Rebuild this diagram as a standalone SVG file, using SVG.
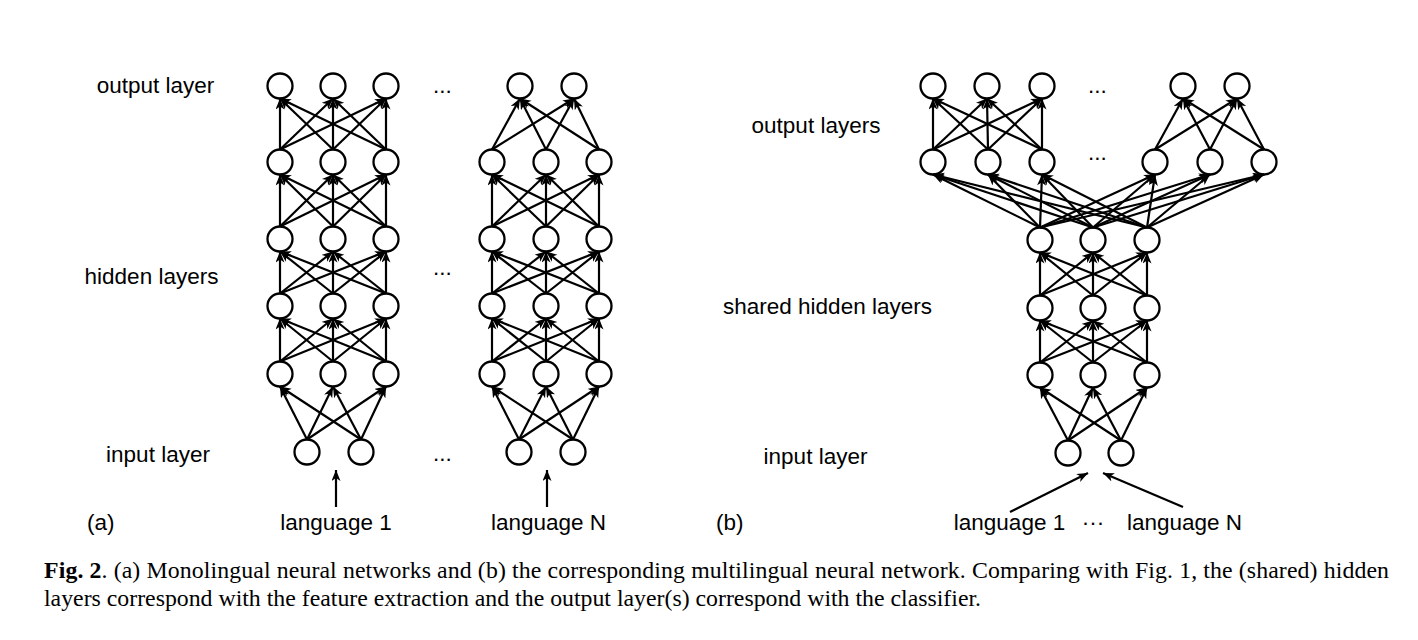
<svg xmlns="http://www.w3.org/2000/svg" width="1418" height="640" viewBox="0 0 1418 640">
<style>
.n{fill:#fff;stroke:#000;stroke-width:2.3}
.e line{stroke:#000;stroke-width:2.2;marker-end:url(#ah)}
.t{font-family:"Liberation Sans",Arial,Helvetica,sans-serif;font-size:22.5px;fill:#000}
.m{text-anchor:middle}
.c{font-family:"Liberation Serif","Times New Roman",serif;font-size:23.8px;fill:#000}
</style>
<defs>
<marker id="ah" markerWidth="12" markerHeight="10" refX="11" refY="4.5" orient="auto" markerUnits="userSpaceOnUse"><path d="M0,0 L11,4.5 L0,9 L3,4.5 Z" fill="#000"/></marker>
</defs>
<rect width="1418" height="640" fill="#fff"/>

<!-- labels -->
<text class="t m" x="155.5" y="93">output layer</text>
<text class="t m" x="151.5" y="284">hidden layers</text>
<text class="t m" x="158" y="462">input layer</text>
<text class="t" x="87" y="530">(a)</text>
<text class="t m" x="336" y="530">language 1</text>
<text class="t m" x="548.5" y="530">language N</text>
<text class="t" x="433" y="93">...</text>
<text class="t" x="433" y="275">...</text>
<text class="t" x="433" y="461">...</text>
<text class="t m" x="816" y="133">output layers</text>
<text class="t m" x="827.5" y="314">shared hidden layers</text>
<text class="t m" x="815.5" y="464">input layer</text>
<text class="t" x="716" y="530">(b)</text>
<text class="t m" x="1009.5" y="530">language 1</text>
<text class="t m" x="1093" y="530">···</text>
<text class="t m" x="1184.5" y="530">language N</text>
<text class="t" x="1088" y="93">...</text>
<text class="t" x="1088" y="160">...</text>

<!-- (a) network 1 -->
<g id="a1-o1"><circle class="n" cx="280" cy="86" r="12.5"/></g>
<g id="a1-o2"><circle class="n" cx="333" cy="86" r="12.5"/></g>
<g id="a1-o3"><circle class="n" cx="386" cy="86" r="12.5"/></g>
<g id="a1-h1a"><circle class="n" cx="280" cy="162" r="12.5"/></g>
<g id="a1-h1b"><circle class="n" cx="333" cy="162" r="12.5"/></g>
<g id="a1-h1c"><circle class="n" cx="386" cy="162" r="12.5"/></g>
<g id="a1-h2a"><circle class="n" cx="280" cy="239" r="12.5"/></g>
<g id="a1-h2b"><circle class="n" cx="333" cy="239" r="12.5"/></g>
<g id="a1-h2c"><circle class="n" cx="386" cy="239" r="12.5"/></g>
<g id="a1-h3a"><circle class="n" cx="280" cy="306" r="12.5"/></g>
<g id="a1-h3b"><circle class="n" cx="333" cy="306" r="12.5"/></g>
<g id="a1-h3c"><circle class="n" cx="386" cy="306" r="12.5"/></g>
<g id="a1-h4a"><circle class="n" cx="280" cy="374" r="12.5"/></g>
<g id="a1-h4b"><circle class="n" cx="333" cy="374" r="12.5"/></g>
<g id="a1-h4c"><circle class="n" cx="386" cy="374" r="12.5"/></g>
<g id="a1-i1"><circle class="n" cx="307" cy="452" r="12.5"/></g>
<g id="a1-i2"><circle class="n" cx="361" cy="452" r="12.5"/></g>

<!-- (a) network N -->
<g id="aN-o1"><circle class="n" cx="520" cy="86" r="12.5"/></g>
<g id="aN-o2"><circle class="n" cx="574" cy="86" r="12.5"/></g>
<g id="aN-h1a"><circle class="n" cx="492" cy="162" r="12.5"/></g>
<g id="aN-h1b"><circle class="n" cx="546" cy="162" r="12.5"/></g>
<g id="aN-h1c"><circle class="n" cx="599" cy="162" r="12.5"/></g>
<g id="aN-h2a"><circle class="n" cx="492" cy="239" r="12.5"/></g>
<g id="aN-h2b"><circle class="n" cx="546" cy="239" r="12.5"/></g>
<g id="aN-h2c"><circle class="n" cx="599" cy="239" r="12.5"/></g>
<g id="aN-h3a"><circle class="n" cx="492" cy="306" r="12.5"/></g>
<g id="aN-h3b"><circle class="n" cx="546" cy="306" r="12.5"/></g>
<g id="aN-h3c"><circle class="n" cx="599" cy="306" r="12.5"/></g>
<g id="aN-h4a"><circle class="n" cx="492" cy="374" r="12.5"/></g>
<g id="aN-h4b"><circle class="n" cx="546" cy="374" r="12.5"/></g>
<g id="aN-h4c"><circle class="n" cx="599" cy="374" r="12.5"/></g>
<g id="aN-i1"><circle class="n" cx="519" cy="452" r="12.5"/></g>
<g id="aN-i2"><circle class="n" cx="573" cy="452" r="12.5"/></g>

<!-- (b) multilingual network -->
<g id="b-o1"><circle class="n" cx="933" cy="86" r="12.5"/></g>
<g id="b-o2"><circle class="n" cx="987" cy="86" r="12.5"/></g>
<g id="b-o3"><circle class="n" cx="1042" cy="86" r="12.5"/></g>
<g id="b-o4"><circle class="n" cx="1183" cy="86" r="12.5"/></g>
<g id="b-o5"><circle class="n" cx="1237" cy="86" r="12.5"/></g>
<g id="b-l1"><circle class="n" cx="933" cy="162" r="12.5"/></g>
<g id="b-l2"><circle class="n" cx="988" cy="162" r="12.5"/></g>
<g id="b-l3"><circle class="n" cx="1042" cy="162" r="12.5"/></g>
<g id="b-l4"><circle class="n" cx="1155" cy="162" r="12.5"/></g>
<g id="b-l5"><circle class="n" cx="1210" cy="162" r="12.5"/></g>
<g id="b-l6"><circle class="n" cx="1264" cy="162" r="12.5"/></g>
<g id="b-s1a"><circle class="n" cx="1040" cy="240" r="12.5"/></g>
<g id="b-s1b"><circle class="n" cx="1093" cy="240" r="12.5"/></g>
<g id="b-s1c"><circle class="n" cx="1147" cy="240" r="12.5"/></g>
<g id="b-s2a"><circle class="n" cx="1040" cy="308" r="12.5"/></g>
<g id="b-s2b"><circle class="n" cx="1093" cy="308" r="12.5"/></g>
<g id="b-s2c"><circle class="n" cx="1147" cy="308" r="12.5"/></g>
<g id="b-s3a"><circle class="n" cx="1040" cy="375" r="12.5"/></g>
<g id="b-s3b"><circle class="n" cx="1093" cy="375" r="12.5"/></g>
<g id="b-s3c"><circle class="n" cx="1147" cy="375" r="12.5"/></g>
<g id="b-i1"><circle class="n" cx="1068" cy="453" r="12.5"/></g>
<g id="b-i2"><circle class="n" cx="1121" cy="453" r="12.5"/></g>

<g id="connectors" class="e">
<!-- net 1 -->
<line x1="307" y1="439.5" x2="280" y2="386.5"/><line x1="307" y1="439.5" x2="333" y2="386.5"/><line x1="307" y1="439.5" x2="386" y2="386.5"/>
<line x1="361" y1="439.5" x2="280" y2="386.5"/><line x1="361" y1="439.5" x2="333" y2="386.5"/><line x1="361" y1="439.5" x2="386" y2="386.5"/>
<line x1="280" y1="361.5" x2="280" y2="318.5"/><line x1="280" y1="361.5" x2="333" y2="318.5"/><line x1="280" y1="361.5" x2="386" y2="318.5"/>
<line x1="333" y1="361.5" x2="280" y2="318.5"/><line x1="333" y1="361.5" x2="333" y2="318.5"/><line x1="333" y1="361.5" x2="386" y2="318.5"/>
<line x1="386" y1="361.5" x2="280" y2="318.5"/><line x1="386" y1="361.5" x2="333" y2="318.5"/><line x1="386" y1="361.5" x2="386" y2="318.5"/>
<line x1="280" y1="293.5" x2="280" y2="251.5"/><line x1="280" y1="293.5" x2="333" y2="251.5"/><line x1="280" y1="293.5" x2="386" y2="251.5"/>
<line x1="333" y1="293.5" x2="280" y2="251.5"/><line x1="333" y1="293.5" x2="333" y2="251.5"/><line x1="333" y1="293.5" x2="386" y2="251.5"/>
<line x1="386" y1="293.5" x2="280" y2="251.5"/><line x1="386" y1="293.5" x2="333" y2="251.5"/><line x1="386" y1="293.5" x2="386" y2="251.5"/>
<line x1="280" y1="226.5" x2="280" y2="174.5"/><line x1="280" y1="226.5" x2="333" y2="174.5"/><line x1="280" y1="226.5" x2="386" y2="174.5"/>
<line x1="333" y1="226.5" x2="280" y2="174.5"/><line x1="333" y1="226.5" x2="333" y2="174.5"/><line x1="333" y1="226.5" x2="386" y2="174.5"/>
<line x1="386" y1="226.5" x2="280" y2="174.5"/><line x1="386" y1="226.5" x2="333" y2="174.5"/><line x1="386" y1="226.5" x2="386" y2="174.5"/>
<line x1="280" y1="149.5" x2="280" y2="98.5"/><line x1="280" y1="149.5" x2="333" y2="98.5"/><line x1="280" y1="149.5" x2="386" y2="98.5"/>
<line x1="333" y1="149.5" x2="280" y2="98.5"/><line x1="333" y1="149.5" x2="333" y2="98.5"/><line x1="333" y1="149.5" x2="386" y2="98.5"/>
<line x1="386" y1="149.5" x2="280" y2="98.5"/><line x1="386" y1="149.5" x2="333" y2="98.5"/><line x1="386" y1="149.5" x2="386" y2="98.5"/>
<line x1="336" y1="507" x2="336" y2="470"/>
<!-- net N -->
<line x1="519" y1="439.5" x2="492" y2="386.5"/><line x1="519" y1="439.5" x2="546" y2="386.5"/><line x1="519" y1="439.5" x2="599" y2="386.5"/>
<line x1="573" y1="439.5" x2="492" y2="386.5"/><line x1="573" y1="439.5" x2="546" y2="386.5"/><line x1="573" y1="439.5" x2="599" y2="386.5"/>
<line x1="492" y1="361.5" x2="492" y2="318.5"/><line x1="492" y1="361.5" x2="546" y2="318.5"/><line x1="492" y1="361.5" x2="599" y2="318.5"/>
<line x1="546" y1="361.5" x2="492" y2="318.5"/><line x1="546" y1="361.5" x2="546" y2="318.5"/><line x1="546" y1="361.5" x2="599" y2="318.5"/>
<line x1="599" y1="361.5" x2="492" y2="318.5"/><line x1="599" y1="361.5" x2="546" y2="318.5"/><line x1="599" y1="361.5" x2="599" y2="318.5"/>
<line x1="492" y1="293.5" x2="492" y2="251.5"/><line x1="492" y1="293.5" x2="546" y2="251.5"/><line x1="492" y1="293.5" x2="599" y2="251.5"/>
<line x1="546" y1="293.5" x2="492" y2="251.5"/><line x1="546" y1="293.5" x2="546" y2="251.5"/><line x1="546" y1="293.5" x2="599" y2="251.5"/>
<line x1="599" y1="293.5" x2="492" y2="251.5"/><line x1="599" y1="293.5" x2="546" y2="251.5"/><line x1="599" y1="293.5" x2="599" y2="251.5"/>
<line x1="492" y1="226.5" x2="492" y2="174.5"/><line x1="492" y1="226.5" x2="546" y2="174.5"/><line x1="492" y1="226.5" x2="599" y2="174.5"/>
<line x1="546" y1="226.5" x2="492" y2="174.5"/><line x1="546" y1="226.5" x2="546" y2="174.5"/><line x1="546" y1="226.5" x2="599" y2="174.5"/>
<line x1="599" y1="226.5" x2="492" y2="174.5"/><line x1="599" y1="226.5" x2="546" y2="174.5"/><line x1="599" y1="226.5" x2="599" y2="174.5"/>
<line x1="492" y1="149.5" x2="520" y2="98.5"/><line x1="492" y1="149.5" x2="574" y2="98.5"/>
<line x1="546" y1="149.5" x2="520" y2="98.5"/><line x1="546" y1="149.5" x2="574" y2="98.5"/>
<line x1="599" y1="149.5" x2="520" y2="98.5"/><line x1="599" y1="149.5" x2="574" y2="98.5"/>
<line x1="547" y1="507" x2="547" y2="470"/>
<!-- (b) -->
<line x1="1068" y1="440.5" x2="1040" y2="387.5"/><line x1="1068" y1="440.5" x2="1093" y2="387.5"/><line x1="1068" y1="440.5" x2="1147" y2="387.5"/>
<line x1="1121" y1="440.5" x2="1040" y2="387.5"/><line x1="1121" y1="440.5" x2="1093" y2="387.5"/><line x1="1121" y1="440.5" x2="1147" y2="387.5"/>
<line x1="1040" y1="362.5" x2="1040" y2="320.5"/><line x1="1040" y1="362.5" x2="1093" y2="320.5"/><line x1="1040" y1="362.5" x2="1147" y2="320.5"/>
<line x1="1093" y1="362.5" x2="1040" y2="320.5"/><line x1="1093" y1="362.5" x2="1093" y2="320.5"/><line x1="1093" y1="362.5" x2="1147" y2="320.5"/>
<line x1="1147" y1="362.5" x2="1040" y2="320.5"/><line x1="1147" y1="362.5" x2="1093" y2="320.5"/><line x1="1147" y1="362.5" x2="1147" y2="320.5"/>
<line x1="1040" y1="295.5" x2="1040" y2="252.5"/><line x1="1040" y1="295.5" x2="1093" y2="252.5"/><line x1="1040" y1="295.5" x2="1147" y2="252.5"/>
<line x1="1093" y1="295.5" x2="1040" y2="252.5"/><line x1="1093" y1="295.5" x2="1093" y2="252.5"/><line x1="1093" y1="295.5" x2="1147" y2="252.5"/>
<line x1="1147" y1="295.5" x2="1040" y2="252.5"/><line x1="1147" y1="295.5" x2="1093" y2="252.5"/><line x1="1147" y1="295.5" x2="1147" y2="252.5"/>
<line x1="1040" y1="227.5" x2="933" y2="174.5"/><line x1="1040" y1="227.5" x2="988" y2="174.5"/><line x1="1040" y1="227.5" x2="1042" y2="174.5"/>
<line x1="1040" y1="227.5" x2="1155" y2="174.5"/><line x1="1040" y1="227.5" x2="1210" y2="174.5"/><line x1="1040" y1="227.5" x2="1264" y2="174.5"/>
<line x1="1093" y1="227.5" x2="933" y2="174.5"/><line x1="1093" y1="227.5" x2="988" y2="174.5"/><line x1="1093" y1="227.5" x2="1042" y2="174.5"/>
<line x1="1093" y1="227.5" x2="1155" y2="174.5"/><line x1="1093" y1="227.5" x2="1210" y2="174.5"/><line x1="1093" y1="227.5" x2="1264" y2="174.5"/>
<line x1="1147" y1="227.5" x2="933" y2="174.5"/><line x1="1147" y1="227.5" x2="988" y2="174.5"/><line x1="1147" y1="227.5" x2="1042" y2="174.5"/>
<line x1="1147" y1="227.5" x2="1155" y2="174.5"/><line x1="1147" y1="227.5" x2="1210" y2="174.5"/><line x1="1147" y1="227.5" x2="1264" y2="174.5"/>
<line x1="933" y1="149.5" x2="933" y2="98.5"/><line x1="933" y1="149.5" x2="987" y2="98.5"/><line x1="933" y1="149.5" x2="1042" y2="98.5"/>
<line x1="988" y1="149.5" x2="933" y2="98.5"/><line x1="988" y1="149.5" x2="987" y2="98.5"/><line x1="988" y1="149.5" x2="1042" y2="98.5"/>
<line x1="1042" y1="149.5" x2="933" y2="98.5"/><line x1="1042" y1="149.5" x2="987" y2="98.5"/><line x1="1042" y1="149.5" x2="1042" y2="98.5"/>
<line x1="1155" y1="149.5" x2="1183" y2="98.5"/><line x1="1155" y1="149.5" x2="1237" y2="98.5"/>
<line x1="1210" y1="149.5" x2="1183" y2="98.5"/><line x1="1210" y1="149.5" x2="1237" y2="98.5"/>
<line x1="1264" y1="149.5" x2="1183" y2="98.5"/><line x1="1264" y1="149.5" x2="1237" y2="98.5"/>
<line x1="1010" y1="512" x2="1088" y2="473"/>
<line x1="1183" y1="507" x2="1103" y2="473"/>
</g>

<!-- caption -->
<text class="c" x="44" y="578" textLength="1345" lengthAdjust="spacing"><tspan font-weight="bold">Fig. 2</tspan>.  (a) Monolingual neural networks and (b) the corresponding multilingual neural network. Comparing with Fig. 1, the (shared) hidden</text>
<text class="c" x="44" y="606">layers correspond with the feature extraction and the output layer(s) correspond with the classifier.</text>
</svg>
